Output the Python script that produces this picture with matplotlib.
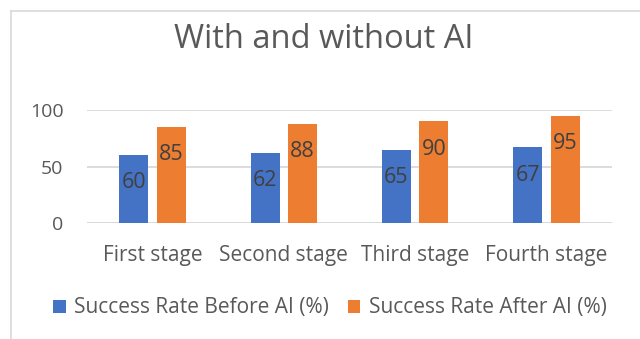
import matplotlib
matplotlib.use("Agg")
import matplotlib.pyplot as plt
from matplotlib.patches import Patch
from matplotlib.lines import Line2D
import numpy as np

categories = ["First stage", "Second stage", "Third stage", "Fourth stage"]
before_ai = [60, 62, 65, 67]
after_ai = [85, 88, 90, 95]
series_names = ["Success Rate Before AI (%)", "Success Rate After AI (%)"]
title = "With and without AI"
yticks = [0, 50, 100]

BLUE = "#4472C4"
ORANGE = "#ED7D31"
TEXT = "#595959"
LABEL = "#404040"
GRID = "#D9D9D9"

plt.rcParams["font.family"] = ["Open Sans", "DejaVu Sans"]

W, H = 640, 339
fig = plt.figure(figsize=(W / 100, H / 100), dpi=100)
fig.patch.set_facecolor("white")

# chart frame (cropped: only top and left edges visible)
fig.add_artist(Line2D([10.5 / W, 10.5 / W], [0, 1 - 11 / H], transform=fig.transFigure,
                      color=GRID, lw=1.2))
fig.add_artist(Line2D([10.5 / W, 1], [1 - 11 / H, 1 - 11 / H], transform=fig.transFigure,
                      color=GRID, lw=1.2))

left, right = 87 / W, 612 / W
bottom, top = 1 - 223 / H, 1 - 110 / H
ax = fig.add_axes([left, bottom, right - left, top - bottom])

x = np.arange(len(categories))
bw = 0.22
off = 0.143
b1 = ax.bar(x - off, before_ai, bw, color=BLUE, zorder=3)
b2 = ax.bar(x + off, after_ai, bw, color=ORANGE, zorder=3)

for bars in (b1, b2):
    for r in bars:
        ax.annotate(f"{r.get_height():g}", (r.get_x() + r.get_width() / 2, r.get_height()),
                    xytext=(0, -20), textcoords="offset points", ha="center", va="center",
                    fontsize=15.5, color=LABEL, zorder=4)

ax.set_xlim(-0.5, len(categories) - 0.5)
ax.set_ylim(0, 100)
ax.set_yticks(yticks)
ax.set_xticks(x)
ax.set_xticklabels(categories)
ax.tick_params(axis="y", length=0, pad=17, labelsize=14, labelcolor=TEXT)
ax.tick_params(axis="x", length=0, pad=16, labelsize=15, labelcolor=TEXT)
ax.grid(axis="y", color=GRID, lw=1.3, zorder=0)
for s in ax.spines.values():
    s.set_visible(False)
ax.axhline(0, color=GRID, lw=1.3, zorder=2)
ax.set_facecolor("white")

fig.text(324 / W, 1 - 40 / H, title, ha="center", va="center", fontsize=23.5, color=TEXT)

handles = [Patch(facecolor=BLUE), Patch(facecolor=ORANGE)]
fig.legend(handles, series_names, loc="center", bbox_to_anchor=(330 / W, 1 - 308 / H),
           ncol=2, frameon=False, fontsize=15, labelcolor=TEXT,
           handlelength=0.6, handleheight=0.6, handletextpad=0.4, columnspacing=0.9)

fig.savefig("out.png", dpi=100, facecolor="white")
